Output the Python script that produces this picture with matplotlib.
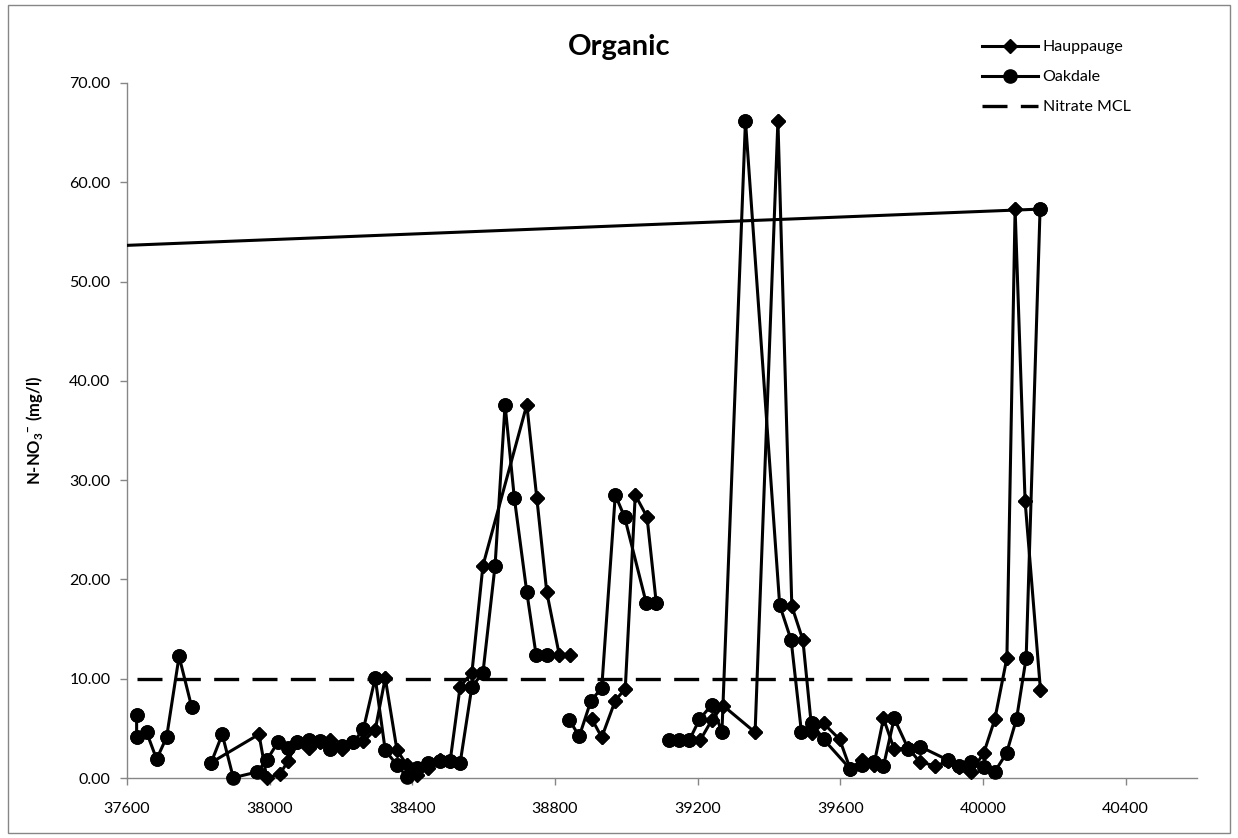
import numpy as np
import matplotlib
matplotlib.use('Agg')
import matplotlib.pyplot as plt
from matplotlib.patches import Rectangle

nan = np.nan

# sampling dates (Excel serial numbers) and nitrate values, NaN = empty cell
hauppauge_dates = [37836, 37970, 37992, 38029, 38052, 38076, 38111, 38141, 38169, 38202,
                   38235, 38263, 38296, 38324, 38357, 38385, 38414, 38443, 38478, 38506,
                   38534, 38567, 38598, 38721, 38749, 38777, 38812, 38843, nan,
                   38904, 38931, 38969, 38997, 39025, 39058, 39084, nan,
                   39177, 39207, 39240, 39271, 39361, 39425, 39464, 39495, 39521, 39553,
                   39598, 39628, 39661, 39694, 39721, 39751, 39791, 39822, 39866, 39902,
                   39932, 39967, 40002, 40033, 40067, 40090, 40118, 40161]
hauppauge_no3 = [1.55, 4.4, 0.0, 0.4, 1.75, 3.6, 3.0, 3.6, 3.8, 2.9,
                 3.6, 3.7, 4.85, 10.07, 2.8, 1.3, 0.3, 1.0, 1.8, 1.7,
                 9.2, 10.6, 21.4, 37.6, 28.2, 18.7, 12.4, 12.4, nan,
                 5.9, 4.1, 7.8, 9.0, 28.5, 26.3, 17.6, nan,
                 3.84, 3.8, 5.86, 7.3, 4.6, 66.2, 17.3, 13.9, 4.5, 5.5,
                 3.9, 0.9, 1.8, 1.3, 6.0, 2.9, 3.0, 1.65, 1.2, 1.7,
                 1.15, 0.64, 2.5, 5.9, 12.1, 57.3, 27.9, 8.9]

oakdale_dates = [37627, 37627, 37655, 37683, 37711, 37746, 37781, nan,
                 37836, 37867, 37898, 37964, 37992, 38023, 38052, 38076, 38111, 38141,
                 38169, 38202, 38235, 38263, 38296, 38324, 38357, 38385, 38414, 38443,
                 38478, 38506, 38534, 38567, 38598, 38632, 38660, 38686, 38721, 38747,
                 38777, nan,
                 38840, 38868, 38901, 38931, 38969, 38995, 39056, 39084, nan,
                 39121, 39149, 39177, 39205, 39240, 39268, 39334, 39430, 39462, 39491,
                 39521, 39553, 39628, 39661, 39694, 39721, 39751, 39791, 39824, 39902,
                 39932, 39967, 40004, 40033, 40066, 40094, 40121, 40160, 0]
oakdale_no3 = [6.3, 4.1, 4.6, 1.9, 4.1, 12.25, 7.2, nan,
               1.55, 4.4, 0.03, 0.6, 1.8, 3.6, 3.0, 3.6, 3.8, 3.7,
               2.9, 3.2, 3.6, 4.95, 10.07, 2.8, 1.3, 0.13, 0.98, 1.55,
               1.7, 1.7, 1.5, 9.2, 10.6, 21.4, 37.6, 28.2, 18.7, 12.4,
               12.4, nan,
               5.86, 4.2, 7.8, 9.06, 28.5, 26.3, 17.6, 17.6, nan,
               3.84, 3.8, 3.84, 5.9, 7.4, 4.6, 66.2, 17.4, 13.9, 4.6,
               5.5, 3.9, 0.9, 1.3, 1.65, 1.2, 6.0, 2.9, 3.16, 1.8,
               1.2, 1.65, 1.15, 0.64, 2.5, 5.95, 12.1, 57.3, 0.0]

mcl_dates = [37628, 40161]
mcl_no3 = [10.0, 10.0]

x_ticks = list(range(37600, 40401, 400))
y_ticks = list(range(0, 71, 10))

plt.rcParams['font.family'] = ['Lato', 'DejaVu Sans']
plt.rcParams['mathtext.fontset'] = 'custom'
plt.rcParams['mathtext.rm'] = 'Lato'
plt.rcParams['mathtext.bf'] = 'Lato:bold'

grey = '#868686'

fig = plt.figure(figsize=(12.38, 8.38), dpi=100)
ax = fig.add_axes([127 / 1238, 1 - 778 / 838, 1070 / 1238, 695 / 838])

ax.plot(hauppauge_dates, hauppauge_no3, color='black', lw=2.2, marker='D', ms=7,
        label='Hauppauge', zorder=3)
ax.plot(oakdale_dates, oakdale_no3, color='black', lw=2.2, marker='o', ms=9.5,
        label='Oakdale', zorder=4)
# markers are not clipped at the plot edge in the original
ax.plot(hauppauge_dates, hauppauge_no3, ls='none', color='black', marker='D', ms=7,
        clip_on=False, zorder=3)
ax.plot(oakdale_dates, oakdale_no3, ls='none', color='black', marker='o', ms=9.5,
        clip_on=False, zorder=4)
ax.plot(mcl_dates, mcl_no3, color='black', lw=2.4, ls=(0, (7.5, 4)),
        label='Nitrate MCL', zorder=5)

ax.set_xlim(37600, 40600)
ax.set_ylim(0, 70)
ax.set_xticks(x_ticks)
ax.set_yticks(y_ticks)
ax.set_yticklabels(['%.2f' % v for v in y_ticks])

for side in ['top', 'right']:
    ax.spines[side].set_visible(False)
for side in ['left', 'bottom']:
    ax.spines[side].set_color(grey)
    ax.spines[side].set_linewidth(1)
ax.tick_params(axis='both', direction='out', length=5, width=1, color=grey, labelsize=11.5)
ax.tick_params(axis='x', pad=12)
ax.tick_params(axis='y', pad=7)

ax.set_ylabel(r'N-NO$_\mathbf{3}$$^\mathbf{-}$ (mg/l)', fontsize=12, fontweight='bold')
ax.yaxis.set_label_coords(-0.077, 0.5)

fig.text(0.5, 1 - 47 / 838, 'Organic', ha='center', va='center', fontsize=21,
         fontweight='bold')

ax.legend(loc='upper left', bbox_to_anchor=(982 / 1238, 1 - 40 / 838),
          bbox_transform=fig.transFigure, frameon=False, fontsize=11.5,
          handlelength=3.5, handletextpad=0.3, labelspacing=1.0, borderpad=0,
          borderaxespad=0, numpoints=1)

fig.patches.append(Rectangle((8 / 1238, 5 / 838), 1 - 16 / 1238, 1 - 10 / 838,
                             transform=fig.transFigure, fill=False, edgecolor=grey,
                             lw=1))

fig.savefig('out.png', dpi=100)
